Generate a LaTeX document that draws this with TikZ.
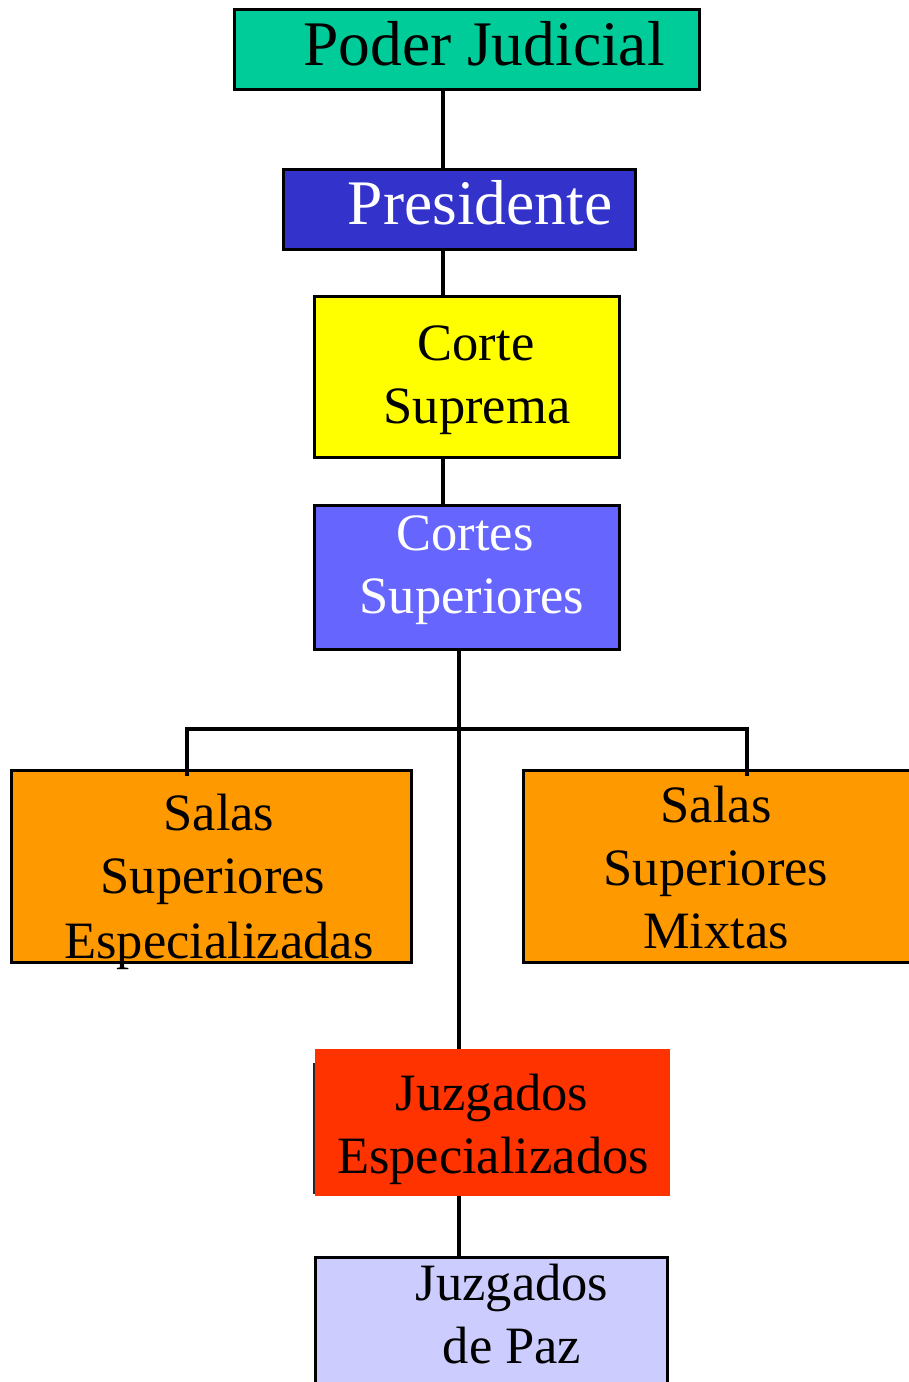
\documentclass[tikz,border=0pt]{standalone}
\usepackage{fontspec}
\setmainfont{Liberation Serif}
\usetikzlibrary{calc}
\definecolor{cpj}{HTML}{00CC99}
\definecolor{cpres}{HTML}{3333CC}
\definecolor{ccs}{HTML}{FFFF00}
\definecolor{ccsup}{HTML}{6666FF}
\definecolor{csala}{HTML}{FF9900}
\definecolor{cje}{HTML}{FF3300}
\definecolor{cjp}{HTML}{CCCCFF}
\tikzset{
  box/.style={draw=black, line width=3pt, inner sep=0pt, outer sep=0pt},
  flat/.style={inner sep=0pt, outer sep=0pt},
  conn/.style={draw=black, line width=3.6pt},
  big/.style={anchor=base, inner sep=0pt, font=\fontsize{63.5}{76}\selectfont},
  txt/.style={anchor=base, inner sep=0pt, font=\fontsize{52.5}{63}\selectfont},
}
\begin{document}
\begin{tikzpicture}[x=1pt, y=-1pt]
\useasboundingbox (0,0) rectangle (909,1382);
% boxes
\node[box, fill=cpj, minimum width=465pt, minimum height=80pt] (pj) at (467,49.5) {};
\node[box, fill=cpres, minimum width=352pt, minimum height=80pt] (pres) at (459,209) {};
\node[box, fill=ccs, minimum width=305pt, minimum height=161pt] (cs) at (467,377) {};
\node[box, fill=ccsup, minimum width=305pt, minimum height=144pt] (csup) at (467,577) {};
\node[box, fill=csala, minimum width=400pt, minimum height=192pt] (sse) at (211,866) {};
\node[box, fill=csala, minimum width=400pt, minimum height=192pt] (ssm) at (723,866) {};
\node[flat, fill=cje, minimum width=355pt, minimum height=147pt] (je) at (492.5,1122.5) {};
\node[box, fill=cjp, minimum width=352pt, minimum height=140pt] (jp) at (491,1327) {};
\draw[line width=1.2pt, black!85] ($(je.south west)+(-1,-2)$) -- ($(je.north west)+(-1,14)$);
% texts
\node[big] (tpj) at (484,65) {Poder Judicial};
\node[big, text=white] (tpres) at (480,224) {Presidente};
\node[txt] (tcs1) at (476,360) {Corte};
\node[txt] (tcs2) at (477,423) {Suprema};
\node[txt, text=white] (tcsup1) at (465,550) {Cortes};
\node[txt, text=white] (tcsup2) at (472,613) {Superiores};
\node[txt] (tsse1) at (219,830) {Salas};
\node[txt] (tsse2) at (213,893) {Superiores};
\node[txt] (tsse3) at (219,958) {Especializadas};
\node[txt] (tssm1) at (716,822) {Salas};
\node[txt] (tssm2) at (716,885) {Superiores};
\node[txt] (tssm3) at (716,948) {Mixtas};
\node[txt] (tje1) at (492,1110) {Juzgados};
\node[txt] (tje2) at (493,1173) {Especializados};
\node[txt] (tjp1) at (512,1300) {Juzgados};
\node[txt] (tjp2) at (512,1363) {de Paz};
% connectors
\coordinate (spine) at (443,0);
\coordinate (spine2) at (459,0);
\coordinate (lft) at (187,729);
\coordinate (rgt) at (747,729);
\draw[conn] (pj.south -| spine) -- (pres.north -| spine);
\draw[conn] (pres.south -| spine) -- (cs.north -| spine);
\draw[conn] (cs.south -| spine) -- (csup.north -| spine);
\draw[conn] (csup.south -| spine2) -- (je.north -| spine2);
\draw[conn] ($(sse.north -| lft)+(0,6)$) -- (lft) -- (rgt) -- ($(ssm.north -| rgt)+(0,6)$);
\draw[conn] (je.south -| spine2) -- (jp.north -| spine2);
\end{tikzpicture}
\end{document}
